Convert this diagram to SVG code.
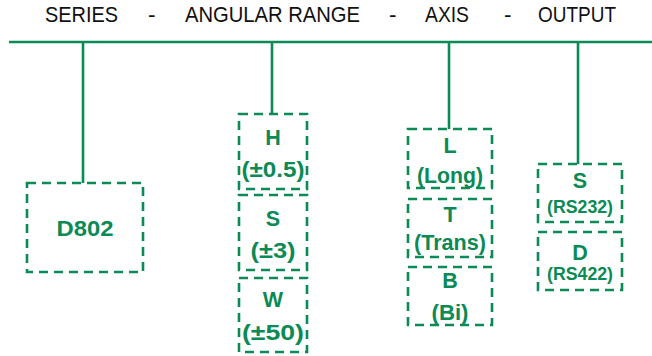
<svg xmlns="http://www.w3.org/2000/svg" width="652" height="356" viewBox="0 0 652 356">
<style>
.hdr{font-family:"Liberation Sans",Arial,sans-serif;font-size:22.5px;fill:#111;}
.box{fill:none;stroke:#0a8a55;stroke-width:2.6;stroke-dasharray:9 6;}
.ln{stroke:#0a8a55;stroke-width:2.6;fill:none;}
.t{font-family:"Liberation Sans",Arial,sans-serif;font-weight:bold;font-size:21.5px;fill:#0a8a55;text-anchor:middle;}
.s{font-size:18px;}
</style>
<rect width="652" height="356" fill="#fff"/>
<g id="header">
<text class="hdr" x="45" y="22" textLength="73" lengthAdjust="spacingAndGlyphs">SERIES</text>
<text class="hdr" x="148" y="22">-</text>
<text class="hdr" x="185" y="22" textLength="175" lengthAdjust="spacingAndGlyphs">ANGULAR RANGE</text>
<text class="hdr" x="389" y="22">-</text>
<text class="hdr" x="425" y="22" textLength="44" lengthAdjust="spacingAndGlyphs">AXIS</text>
<text class="hdr" x="504" y="22">-</text>
<text class="hdr" x="538" y="22" textLength="78" lengthAdjust="spacingAndGlyphs">OUTPUT</text>
</g>
<g id="connectors">
<line class="ln" x1="9" y1="42" x2="652" y2="42"/>
<line class="ln" x1="83" y1="42" x2="83" y2="183"/>
<line class="ln" x1="272" y1="42" x2="272" y2="114"/>
<line class="ln" x1="449" y1="42" x2="449" y2="129"/>
<line class="ln" x1="578" y1="42" x2="578" y2="164"/>
</g>
<g id="series">
<rect class="box" x="27" y="183" width="116" height="89"/>
<text class="t" x="85" y="236" font-size="22" textLength="57" lengthAdjust="spacingAndGlyphs">D802</text>
</g>
<g id="range-H">
<rect class="box" x="239" y="114" width="68" height="75"/>
<text class="t" x="273" y="145">H</text>
<text class="t" x="273" y="177" textLength="63" lengthAdjust="spacingAndGlyphs">(±0.5)</text>
</g>
<g id="range-S">
<rect class="box" x="239" y="195" width="68" height="75"/>
<text class="t" x="273" y="226">S</text>
<text class="t" x="273" y="258" textLength="45" lengthAdjust="spacingAndGlyphs">(±3)</text>
</g>
<g id="range-W">
<rect class="box" x="239" y="278" width="68" height="74"/>
<text class="t" x="273" y="307">W</text>
<text class="t" x="273" y="340" textLength="62" lengthAdjust="spacingAndGlyphs">(±50)</text>
</g>
<g id="axis-L">
<rect class="box" x="408" y="129" width="84" height="59"/>
<text class="t" x="450" y="153">L</text>
<text class="t" x="450" y="183" textLength="66" lengthAdjust="spacingAndGlyphs">(Long)</text>
</g>
<g id="axis-T">
<rect class="box" x="408" y="199" width="84" height="58"/>
<text class="t" x="450" y="222">T</text>
<text class="t" x="450" y="250" textLength="72" lengthAdjust="spacingAndGlyphs">(Trans)</text>
</g>
<g id="axis-B">
<rect class="box" x="408" y="267" width="84" height="58"/>
<text class="t" x="450" y="288">B</text>
<text class="t" x="450" y="320" textLength="37" lengthAdjust="spacingAndGlyphs">(Bi)</text>
</g>
<g id="output-S">
<rect class="box" x="538" y="164" width="84" height="58"/>
<text class="t" x="580" y="188">S</text>
<text class="t s" x="580" y="213" textLength="66" lengthAdjust="spacingAndGlyphs">(RS232)</text>
</g>
<g id="output-D">
<rect class="box" x="538" y="232" width="84" height="58"/>
<text class="t" x="580" y="260">D</text>
<text class="t s" x="580" y="280" textLength="66" lengthAdjust="spacingAndGlyphs">(RS422)</text>
</g>
</svg>
